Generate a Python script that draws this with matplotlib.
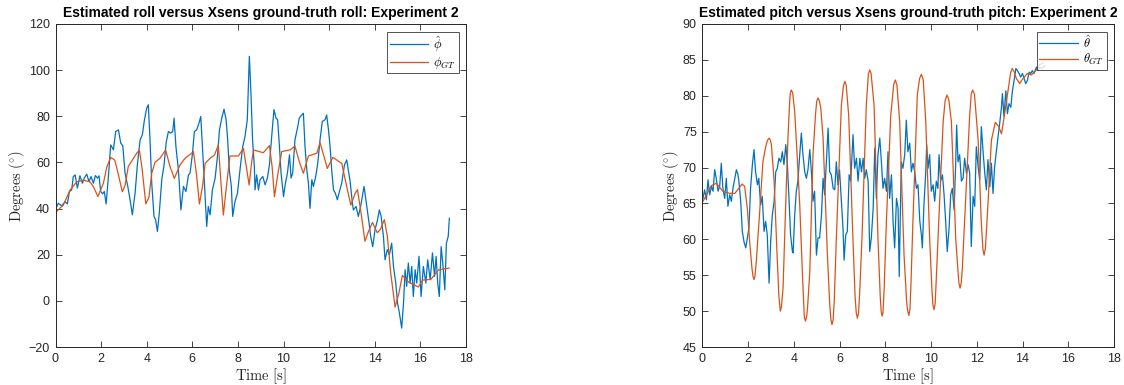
import matplotlib
matplotlib.use("Agg")
import matplotlib.pyplot as plt

plt.rcParams['mathtext.fontset'] = 'cm'
plt.rcParams['font.family'] = ['Liberation Sans', 'DejaVu Sans']

# ---------------- Roll data (Experiment 2) ----------------
roll_est_t = [0.02, 0.12, 0.27, 0.42, 0.52, 0.61, 0.71, 0.78, 0.86, 0.96, 1.07, 1.18, 1.26, 1.37,
              1.47, 1.56, 1.66, 1.75, 1.84, 1.91, 1.98, 2.07, 2.14, 2.22, 2.32, 2.42, 2.54, 2.64,
              2.76, 2.86, 2.95, 3.05, 3.17, 3.27, 3.37, 3.49, 3.59, 3.71, 3.81, 3.9, 4.0, 4.07,
              4.14, 4.22, 4.32, 4.39, 4.47, 4.55, 4.66, 4.76, 4.85, 4.95, 5.05, 5.14, 5.2, 5.28,
              5.39, 5.5, 5.61, 5.72, 5.83, 5.9, 6.0, 6.09, 6.19, 6.29, 6.37, 6.45, 6.53, 6.63,
              6.7, 6.78, 6.88, 7.0, 7.1, 7.19, 7.29, 7.39, 7.48, 7.55, 7.62, 7.71, 7.77, 7.87,
              7.98, 8.09, 8.21, 8.31, 8.41, 8.5, 8.57, 8.64, 8.72, 8.75, 8.82, 8.9, 8.97, 9.09,
              9.19, 9.29, 9.38, 9.48, 9.58, 9.67, 9.74, 9.82, 9.89, 10.0, 10.07, 10.17, 10.26,
              10.33, 10.4, 10.5, 10.61, 10.69, 10.8, 10.87, 10.94, 11.02, 11.09, 11.16, 11.24,
              11.31, 11.41, 11.5, 11.6, 11.7, 11.82, 11.89, 11.97, 12.04, 12.11, 12.19, 12.27,
              12.36, 12.45, 12.55, 12.67, 12.77, 12.84, 12.92, 13.0, 13.06, 13.18, 13.28, 13.38,
              13.53, 13.65, 13.75, 13.82, 13.91, 14.01, 14.12, 14.2, 14.28, 14.38, 14.45, 14.55,
              14.64, 14.74, 14.82, 14.92, 15.0, 15.08, 15.18, 15.26, 15.33, 15.4, 15.47, 15.55,
              15.62, 15.69, 15.77, 15.84, 15.94, 16.03, 16.13, 16.24, 16.32, 16.43, 16.53, 16.62,
              16.69, 16.76, 16.83, 16.91, 16.98, 17.07, 17.14, 17.22, 17.27]
roll_est = [40.1, 42.3, 41.2, 43.0, 42.0, 47.4, 48.1, 53.9, 54.6, 48.9, 54.2, 51.0, 53.2, 54.9,
            51.7, 53.9, 51.0, 54.3, 53.2, 54.2, 47.4, 46.4, 47.4, 42.0, 53.9, 67.6, 65.5, 73.4,
            74.1, 68.4, 67.2, 55.4, 49.6, 43.8, 37.3, 46.7, 59.0, 69.8, 72.0, 78.5, 83.6, 85.0,
            70.6, 51.0, 36.6, 35.1, 30.1, 38.0, 52.5, 58.9, 68.4, 73.4, 72.7, 73.4, 79.2, 66.9,
            56.8, 39.4, 49.6, 47.4, 54.6, 55.4, 63.3, 73.4, 74.1, 77.0, 79.9, 65.5, 51.0, 32.2,
            40.9, 37.3, 48.1, 53.2, 62.6, 74.1, 79.2, 83.1, 78.5, 69.8, 56.8, 49.6, 36.6, 43.1,
            46.7, 56.8, 66.9, 71.3, 78.5, 106.0, 90.1, 70.0, 58.0, 48.1, 54.6, 48.1, 52.5, 53.9,
            50.3, 53.2, 58.9, 71.3, 82.9, 79.2, 78.5, 66.9, 55.4, 45.2, 50.3, 55.4, 63.3,
            53.2, 55.4, 69.8, 74.9, 79.2, 80.6, 81.3, 66.9, 56.8, 51.0, 40.1, 52.5,
            49.6, 53.9, 59.7, 69.8, 77.8, 78.5, 80.6, 74.1, 66.9, 56.8, 48.1, 46.7,
            43.8, 47.4, 51.0, 58.9, 61.1, 56.8, 51.7, 44.0, 39.4, 40.9, 36.6, 40.9,
            49.6, 40.9, 33.7, 27.9, 23.5, 30.8, 35.1, 39.4, 36.6, 27.9, 17.8, 22.2,
            20.0, 25.0, 14.9, 7.7, -1.0, -5.3, -11.8, -1.0, 13.5, 6.3, 16.4, 7.7,
            14.9, 1.9, 13.5, 7.7, 19.3, 1.9, 14.9, 7.7, 17.8, 9.2, 20.8, 10.6,
            19.3, 7.7, 1.9, 23.5, 16.4, 4.8, 25.0, 27.9, 35.8]

roll_gt_t = [0.0, 0.34, 0.64, 0.93, 1.22, 1.51, 1.66, 1.86, 2.1, 2.25, 2.42, 2.6, 2.75, 2.93, 3.05,
             3.19, 3.4, 3.56, 3.68, 3.8, 3.96, 4.1, 4.22, 4.36, 4.58, 4.83, 5.02, 5.21, 5.46, 5.68,
             5.97, 6.05, 6.18, 6.31, 6.45, 6.56, 6.78, 6.97, 7.14, 7.25, 7.36, 7.5, 7.65, 8.02,
             8.24, 8.37, 8.49, 8.6, 8.68, 9.11, 9.38, 9.5, 9.6, 9.75, 9.92, 10.3, 10.5, 10.7,
             10.87, 11.09, 11.46, 11.6, 11.76, 11.92, 12.16, 12.55, 12.77, 12.95, 13.14, 13.24,
             13.4, 13.57, 13.72, 13.9, 14.11, 14.25, 14.42, 14.55, 14.7, 14.89, 15.05, 15.21,
             15.5, 15.91, 16.1, 16.46, 16.79, 17.0, 17.26]
roll_gt = [38.3, 41.5, 48.0, 51.6, 52.3, 51.6, 49.5, 45.2, 51.0, 58.0, 62.2, 61.0, 55.0, 47.3, 50.0,
           58.2, 61.5, 64.0, 65.4, 57.0, 42.0, 45.0, 55.3, 60.0, 61.8, 65.4, 58.2, 53.1, 58.9, 61.8,
           64.0, 64.7, 55.0, 42.0, 50.0, 59.6, 61.8, 63.2, 67.5, 52.0, 37.2, 50.0, 62.8, 62.8,
           66.1, 58.0, 50.2, 60.0, 65.4, 64.2, 67.3, 58.0, 45.1, 55.0, 64.7, 65.5, 67.1, 60.0,
           55.3, 62.8, 64.0, 68.6, 63.0, 57.4, 62.2, 59.6, 49.5, 41.5, 46.6, 48.2,
           38.0, 25.8, 30.0, 34.0, 29.5, 31.0, 35.2, 28.0, 12.0, -2.7, 3.0, 11.0,
           8.0, 6.0, 9.0, 9.3, 13.4, 13.8, 14.2]

# ---------------- Pitch data (Experiment 2) ----------------
pitch_est_t = [0.03, 0.1, 0.18, 0.25, 0.32, 0.4, 0.47, 0.54, 0.61, 0.69, 0.76, 0.83, 0.9, 0.98,
               1.05, 1.12, 1.2, 1.27, 1.34, 1.42, 1.49, 1.56, 1.6, 1.68, 1.75, 1.82, 1.9, 1.97,
               2.04, 2.11, 2.19, 2.26, 2.33, 2.41, 2.47, 2.55, 2.62, 2.7, 2.77, 2.84, 2.92, 2.99,
               3.06, 3.14, 3.21, 3.28, 3.35, 3.43, 3.5, 3.57, 3.65, 3.72, 3.79, 3.86, 3.94, 3.97,
               4.04, 4.11, 4.18, 4.26, 4.33, 4.4, 4.48, 4.55, 4.62, 4.7, 4.77, 4.84, 4.91, 4.99,
               5.06, 5.13, 5.21, 5.28, 5.35, 5.43, 5.5, 5.57, 5.64, 5.72, 5.79, 5.86, 5.93, 6.0,
               6.08, 6.15, 6.2, 6.27, 6.34, 6.42, 6.49, 6.59, 6.66, 6.74, 6.81, 6.89, 6.96, 7.03,
               7.1, 7.17, 7.25, 7.32, 7.39, 7.47, 7.54, 7.61, 7.68, 7.76, 7.83, 7.9, 7.97, 8.05,
               8.12, 8.19, 8.27, 8.34, 8.41, 8.49, 8.56, 8.61, 8.7, 8.77, 8.85, 8.92, 8.99, 9.07,
               9.14, 9.21, 9.29, 9.36, 9.43, 9.51, 9.58, 9.62, 9.69, 9.77, 9.81, 9.87, 9.94, 10.01,
               10.09, 10.16, 10.23, 10.3, 10.35, 10.42, 10.5, 10.57, 10.64, 10.71, 10.79, 10.86,
               10.93, 11.01, 11.08, 11.12, 11.18, 11.25, 11.33, 11.4, 11.47, 11.55, 11.62, 11.69,
               11.76, 11.84, 11.91, 11.98, 12.06, 12.13, 12.2, 12.28, 12.35, 12.42, 12.49, 12.57,
               12.64, 12.71, 12.78, 12.86, 12.93, 13.0, 13.08, 13.12, 13.19, 13.27, 13.34, 13.41,
               13.49, 13.56, 13.63, 13.71, 13.78, 13.85, 13.92, 14.0, 14.07, 14.14, 14.21, 14.29,
               14.36, 14.43, 14.5, 14.61, 14.68, 14.75, 14.85, 14.97]
pitch_est = [65.7, 66.9, 65.5, 68.3, 66.2, 67.4, 66.7, 69.7, 68.5, 66.7, 67.4, 70.6, 67.1, 65.7,
             68.5, 64.6, 66.2, 65.3, 67.1, 68.5, 69.7, 69.0, 68.1, 65.3, 61.1, 59.7, 58.8, 60.2,
             61.6, 67.1, 70.4, 72.5, 69.4, 67.6, 68.5, 64.8, 66.0, 61.1, 62.5, 60.6, 53.9, 59.7,
             63.4, 65.3, 69.4, 69.9, 71.3, 70.8, 72.2, 70.4, 73.2, 70.4, 65.7, 60.6, 58.3, 58.1,
             63.4, 66.7, 68.1, 71.8, 74.8, 71.8, 69.4, 68.5, 69.7, 72.5, 69.4, 65.3, 66.7, 57.8,
             60.2, 60.2, 63.4, 68.5, 66.2, 71.3, 75.5, 69.4, 69.0, 67.1, 66.9, 70.8, 67.6, 69.7,
             65.3, 61.6, 57.1, 60.6, 61.1, 69.0, 68.1, 74.6, 69.9, 71.3, 68.1, 71.3, 69.4, 71.3,
             68.5, 69.7, 68.1, 58.3, 60.2, 64.3, 72.7, 65.7, 71.8, 74.1, 70.8, 67.1, 68.5, 66.7,
             72.2, 65.7, 69.0, 62.5, 58.8, 65.7, 64.3, 54.8, 70.8, 69.9, 71.8, 76.6, 72.2, 73.4,
             69.4, 70.6, 69.4, 67.1, 67.6, 62.5, 60.6, 58.8, 64.8, 69.4, 73.2, 69.9, 71.8, 66.7,
             67.6, 65.3, 68.1, 67.1, 71.8, 68.1, 69.0, 66.2, 62.5, 58.3, 61.6, 66.2,
             67.1, 64.1, 70.8, 75.9, 70.8, 71.8, 68.1, 68.5, 71.3, 69.2, 70.4, 69.2,
             59.0, 66.0, 64.6, 72.9, 70.1, 68.3, 75.7, 72.0, 69.2, 66.9, 71.1, 67.3,
             70.6, 66.4, 70.1, 72.4, 74.3, 76.1, 78.4, 80.3, 77.1, 80.7, 77.5, 78.9,
             78.4, 80.7, 82.1, 83.8, 83.5, 83.1, 82.6, 83.1, 82.4, 81.7, 82.1, 83.3,
             83.1, 83.5, 83.1, 84.0, 83.5, 84.0, 83.8, 84.2]

pitch_gt_t = [0.03, 0.18, 0.4, 0.61, 0.72, 0.9, 1.2, 1.42, 1.59, 1.74, 1.85, 1.97, 2.07, 2.17,
              2.22, 2.26, 2.3, 2.36, 2.51, 2.65, 2.77, 2.85, 2.92, 2.98, 3.02, 3.14, 3.27, 3.35,
              3.41, 3.46, 3.53, 3.67, 3.75, 3.82, 3.85, 3.89, 3.95, 4.04, 4.15, 4.26, 4.38, 4.46,
              4.51, 4.56, 4.6, 4.7, 4.77, 4.84, 4.95, 5.0, 5.06, 5.12, 5.18, 5.28, 5.47, 5.57,
              5.62, 5.67, 5.72, 5.77, 5.86, 6.08, 6.17, 6.23, 6.29, 6.4, 6.59, 6.68, 6.73, 6.78,
              6.83, 6.88, 6.98, 7.17, 7.26, 7.32, 7.38, 7.51, 7.68, 7.78, 7.82, 7.86, 7.9, 7.95,
              8.05, 8.24, 8.37, 8.44, 8.51, 8.63, 8.82, 8.93, 8.98, 9.03, 9.08, 9.12, 9.21, 9.4,
              9.5, 9.58, 9.66, 9.77, 9.94, 10.04, 10.08, 10.13, 10.18, 10.23, 10.34, 10.53, 10.62,
              10.7, 10.78, 10.89, 11.08, 11.18, 11.22, 11.27, 11.32, 11.37, 11.47, 11.69, 11.76,
              11.82, 11.9, 12.06, 12.2, 12.27, 12.32, 12.38, 12.46, 12.64, 12.81, 12.96, 13.08,
              13.22, 13.37, 13.48, 13.55, 13.63, 13.73, 13.88, 14.02, 14.21, 14.39, 14.61, 14.75,
              14.9]
pitch_gt = [65.3, 66.2, 67.5, 67.8, 67.4, 66.7, 66.4, 66.4, 67.1, 67.7, 67.4, 64.3, 59.7, 56.0,
            54.8, 54.4, 54.8, 56.9, 63.9, 70.8, 72.9, 73.8, 74.1, 73.8, 73.2, 68.1, 57.8, 52.0,
            50.0, 50.6, 53.2, 67.2, 74.5, 79.2, 80.4, 80.8, 80.4, 77.8, 71.5, 64.8, 55.0, 49.2,
            48.6, 49.2, 50.4, 55.5, 63.4, 71.8, 77.4, 79.2, 79.7, 79.3, 78.3, 74.1, 57.8, 51.0,
            48.9, 48.1, 48.8, 51.5, 60.1, 78.7, 81.4, 82.0, 81.5, 77.3, 59.7, 52.0, 49.8, 49.0,
            49.7, 52.5, 60.1, 78.7, 83.0, 83.6, 83.1, 78.7, 60.1, 52.0, 50.0, 49.3, 49.8, 53.0,
            62.6, 77.3, 81.6, 82.2, 81.5, 76.4, 57.8, 51.5, 50.0, 49.4, 50.3, 53.5, 62.6, 80.1,
            82.4, 83.0, 82.2, 76.4, 60.1, 53.0, 50.9, 50.2, 51.0, 54.5, 62.6, 76.4, 79.4,
            80.1, 79.4, 76.4, 60.1, 55.5, 53.9, 53.2, 53.9, 56.0, 62.6, 77.3, 80.3,
            80.8, 80.2, 73.8, 62.2, 58.6, 57.8, 58.8, 63.2, 73.8, 76.3, 75.7, 74.7,
            77.5, 80.8, 83.2, 83.8, 83.4, 82.4, 81.7, 82.4, 83.1, 82.9, 83.6, 84.3,
            84.6]

# ---------------- Styling ----------------
blue = '#0072BD'
orange = '#D95319'
axcol = '#262626'
W, H = 1124, 385

fig = plt.figure(figsize=(W / 100, H / 100), dpi=100)
ax1 = fig.add_axes([55.5 / W, 1 - 347 / H, 410.5 / W, 323 / H])
ax2 = fig.add_axes([702.3 / W, 1 - 347 / H, 411.7 / W, 323 / H])


def style(ax, title, ylim, yticks, labels):
    ax.set_xlim(0, 18)
    ax.set_ylim(*ylim)
    ax.set_xticks(range(0, 19, 2))
    ax.set_yticks(yticks)
    ax.tick_params(direction='in', top=True, right=True, length=4, width=0.6,
                   colors=axcol, labelsize=9, pad=4)
    for s in ax.spines.values():
        s.set_color(axcol)
        s.set_linewidth(0.7)
    ax.set_title(title, fontsize=10, fontweight='bold', color='black', pad=5)
    ax.set_xlabel(r'$\mathrm{Time\ [s]}$', fontsize=10.5, color=axcol, labelpad=1)
    ax.set_ylabel(r'$\mathrm{Degrees\ (^{\circ})}$', fontsize=10.5, color=axcol, labelpad=1)
    leg = ax.legend(labels, loc='upper right', fontsize=9, handlelength=3.1,
                    frameon=True, fancybox=False, borderaxespad=0.6,
                    borderpad=0.2, labelspacing=0.1, handletextpad=0.4)
    leg.get_frame().set_edgecolor(axcol)
    leg.get_frame().set_linewidth(0.7)


ax1.plot(roll_est_t, roll_est, color=blue, lw=0.9)
ax1.plot(roll_gt_t, roll_gt, color=orange, lw=0.9)
style(ax1, 'Estimated roll versus Xsens ground-truth roll: Experiment 2', (-20, 120),
      range(-20, 121, 20), [r'$\hat{\phi}$', r'$\phi_{GT}$'])

ax2.plot(pitch_est_t, pitch_est, color=blue, lw=0.9)
ax2.plot(pitch_gt_t, pitch_gt, color=orange, lw=0.9)
style(ax2, 'Estimated pitch versus Xsens ground-truth pitch: Experiment 2', (45, 90),
      range(45, 91, 5), [r'$\hat{\theta}$', r'$\theta_{GT}$'])

fig.savefig('out.png', dpi=100)
